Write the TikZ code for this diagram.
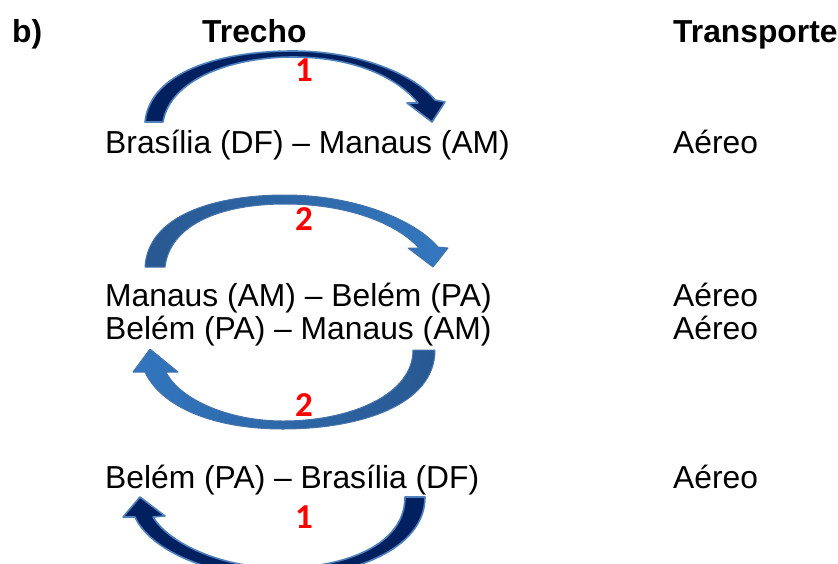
\documentclass[tikz,border=0pt]{standalone}
\usepackage{fontspec}
\setmainfont{Liberation Sans}
\newfontfamily\numfont{Carlito}
\begin{document}
\begin{tikzpicture}[x=1pt,y=-1pt,
  txt/.style={anchor=base west,inner sep=0pt,font=\fontsize{31.8}{38}\selectfont},
  hdr/.style={txt,font=\fontsize{31.8}{38}\selectfont\bfseries},
  num/.style={anchor=base,inner sep=0pt,text=red,font=\numfont\fontsize{35}{40}\selectfont\bfseries},
  navyarrow/.style={fill={rgb,255:red,0;green,32;blue,96},draw={rgb,255:red,79;green,129;blue,189},line width=1.6pt,line join=round},
  bluearrowR/.style={left color={rgb,255:red,40;green,88;blue,145},right color={rgb,255:red,52;green,120;blue,192},draw={rgb,255:red,70;green,115;blue,170},line width=1pt,line join=round},
  bluearrowL/.style={left color={rgb,255:red,50;green,118;blue,190},right color={rgb,255:red,40;green,88;blue,145},draw={rgb,255:red,70;green,115;blue,170},line width=1pt,line join=round}
]
\useasboundingbox (0,0) rectangle (838,563);
\clip (0,0) rectangle (838,563);

% headers
\node[hdr] (b) at (12,42) {b)};
\node[hdr] (trecho) at (202,42) {Trecho};
\node[hdr] (transporte) at (673,42) {Transporte};

% rows
\node[txt] (r1) at (105,153) {Brasília (DF) – Manaus (AM)};
\node[txt] (t1) at (673,153) {Aéreo};
\node[txt] (r2) at (105,306) {Manaus (AM) – Belém (PA)};
\node[txt] (t2) at (673,306) {Aéreo};
\node[txt] (r3) at (105,339) {Belém (PA) – Manaus (AM)};
\node[txt] (t3) at (673,339) {Aéreo};
\node[txt] (r4) at (105,488) {Belém (PA) – Brasília (DF)};
\node[txt] (t4) at (673,488) {Aéreo};

% arrow 1 (curved down, navy)
\path[navyarrow] (145,122) .. controls (150,72) and (220,51) .. (293,51)
  .. controls (360,51) and (415,75) .. (435,100) -- (445,102) -- (432,122) -- (407,103) -- (418,103)
  .. controls (395,75) and (350,57) .. (293,57)
  .. controls (230,57) and (170,80) .. (163,122) -- cycle;

% arrow 2 (curved down, blue)
\path[bluearrowR] (145,267) .. controls (148,215) and (215,195) .. (285,195)
  .. controls (355,195) and (415,220) .. (438,247) -- (448,248) -- (433,267) -- (408,248) -- (419,248)
  .. controls (395,222) and (345,204) .. (285,204)
  .. controls (220,204) and (170,225) .. (165,267) -- cycle;

% arrow 3 (curved up, blue)
\path[bluearrowL] (435,350) .. controls (435,405) and (360,429) .. (283,429)
  .. controls (210,429) and (160,405) .. (145,372) -- (133,372) -- (150,349) -- (178,372) -- (166,372)
  .. controls (180,400) and (230,421) .. (283,421)
  .. controls (350,421) and (413,395) .. (413,350) -- cycle;

% arrow 4 (curved up, navy)
\path[navyarrow] (425,497) .. controls (425,550) and (350,577) .. (280,577)
  .. controls (210,577) and (150,550) .. (135,517) -- (123,517) -- (140,497) -- (165,516) -- (153,517)
  .. controls (170,545) and (225,568) .. (280,568)
  .. controls (345,568) and (405,545) .. (405,497) -- cycle;

% numbers
\node[num] (n1) at (304,81) {1};
\node[num] (n2) at (304,230) {2};
\node[num] (n3) at (304,416) {2};
\node[num] (n4) at (304,528) {1};
\end{tikzpicture}
\end{document}
